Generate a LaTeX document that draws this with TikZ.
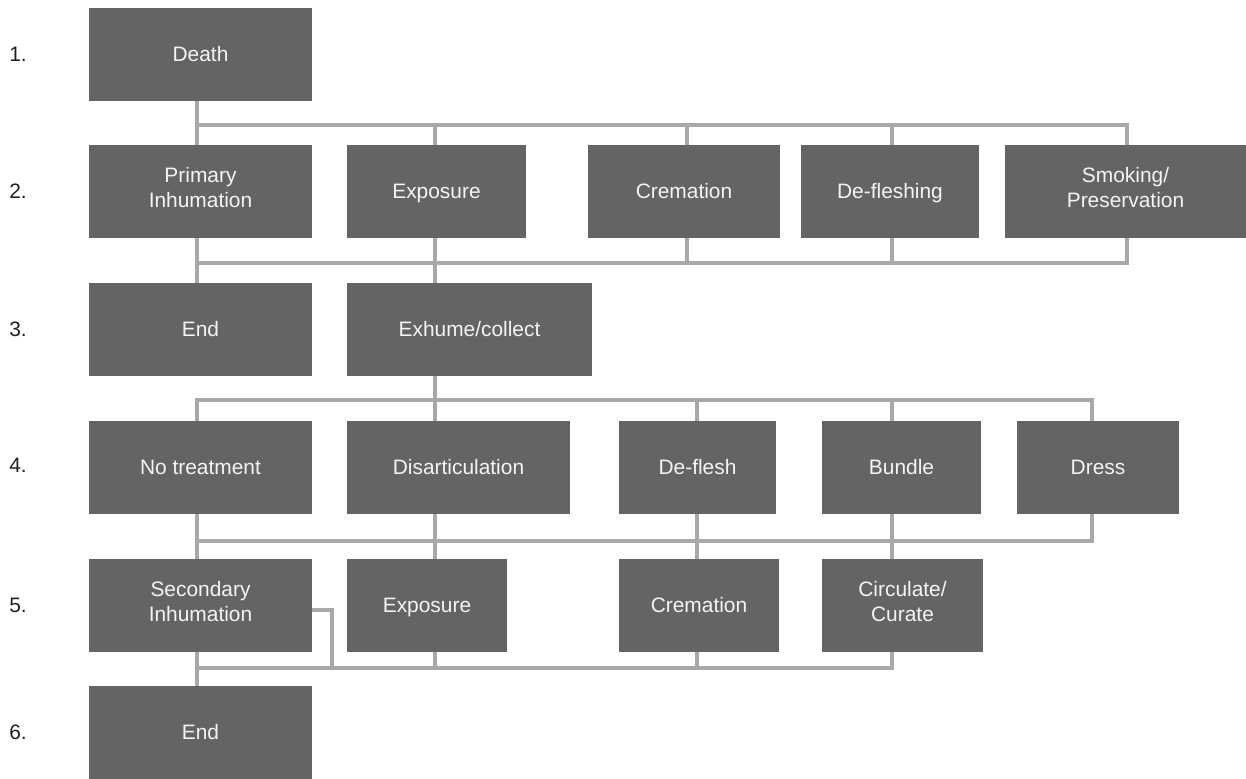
\documentclass[tikz,border=0pt]{standalone}
\usepackage{fontspec}
\setmainfont{Liberation Sans}
\usepackage{xcolor}
\usepackage{tikz}
\usetikzlibrary{positioning}

\definecolor{boxgray}{HTML}{646466}
\definecolor{linkgray}{HTML}{A8A8AA}
\definecolor{boxtext}{HTML}{F4F4F4}
\definecolor{numtext}{HTML}{231F20}

% taller strut on top so the labels sit a bit lower in the boxes
\newcommand{\stagetop}{\rule{0pt}{12.7pt}}
\newcommand{\stagetoptwo}{\rule{0pt}{15.6pt}}

\begin{document}
\begin{tikzpicture}[
    x=0.02cm, y=-0.02cm,
    stage/.style={fill=boxgray, draw=none, inner sep=0pt, minimum height=1.86cm,
                  align=center, text=boxtext, font=\fontsize{11.9}{14.2}\selectfont,
                  execute at begin node=\stagetop, execute at end node=\strut},
    twoline/.style={execute at begin node=\stagetoptwo},
    stepnum/.style={anchor=west, inner sep=0pt, text=numtext,
                    font=\fontsize{11.9}{14.2}\selectfont},
    link/.style={draw=linkgray, line width=0.08cm},
]
\useasboundingbox (0,0) rectangle (1246,778);

% ── Step numbers ──
\foreach \n/\y in {1/54.5, 2/191.5, 3/329.5, 4/465, 5/605.5, 6/732.5}
    \node[stepnum] (num\n) at (9,\y) {\n.};

% ── Row 1 ──
\node[stage, minimum width=4.46cm] (death) at (200.5,54.5) {Death};

% ── Row 2: first treatment ──
\node[stage, twoline, minimum width=4.46cm] (prim) at (200.5,191.5) {Primary\\Inhumation};
\node[stage, minimum width=3.58cm] (expo) at (436.5,191.5) {Exposure};
\node[stage, minimum width=3.84cm] (crem) at (684,191.5) {Cremation};
\node[stage, minimum width=3.56cm] (defl) at (890,191.5) {De-fleshing};
\node[stage, twoline, minimum width=4.82cm] (smok) at (1125.5,191.5) {Smoking/\\Preservation};

% ── Row 3 ──
\node[stage, minimum width=4.46cm] (endA) at (200.5,329.5) {End};
\node[stage, minimum width=4.90cm] (exhu) at (469.5,329.5) {Exhume/collect};

% ── Row 4: handling of remains ──
\node[stage, minimum width=4.46cm] (notr) at (200.5,467.5) {No treatment};
\node[stage, minimum width=4.46cm] (disa) at (458.5,467.5) {Disarticulation};
\node[stage, minimum width=3.14cm] (dfls) at (697.5,467.5) {De-flesh};
\node[stage, minimum width=3.18cm] (bund) at (901.5,467.5) {Bundle};
\node[stage, minimum width=3.24cm] (dres) at (1098,467.5) {Dress};

% ── Row 5: second treatment ──
\node[stage, twoline, minimum width=4.46cm] (seco) at (200.5,605.5) {Secondary\\Inhumation};
\node[stage, minimum width=3.20cm] (expoB) at (427,605.5) {Exposure};
\node[stage, minimum width=3.20cm] (cremB) at (699,605.5) {Cremation};
\node[stage, twoline, minimum width=3.22cm] (circ) at (902.5,605.5) {Circulate/\\Curate};

% ── Row 6 ──
\node[stage, minimum width=4.46cm] (endB) at (200.5,732.5) {End};

% ── Columns and bus lines ──
\coordinate (c1) at (197,0);
\coordinate (c2) at (435,0);
\coordinate (c3) at (687,0);
\coordinate (c3b) at (697,0);
\coordinate (c4) at (892,0);
\coordinate (c5) at (1127,0);
\coordinate (c6) at (1092,0);
\coordinate (c7) at (332,0);
\coordinate (busA) at (0,125);
\coordinate (busB) at (0,263);
\coordinate (busC) at (0,400);
\coordinate (busD) at (0,541);
\coordinate (busE) at (0,668);

% 1 -> 2
\draw[link] (death.south -| c1) -- (prim.north -| c1);
\draw[link] (c1 |- busA) -| (smok.north -| c5);
\foreach \n/\c in {expo/c2, crem/c3, defl/c4}
    \draw[link] (\c |- busA) -- (\n.north -| \c);

% 2 -> 3
\draw[link] (prim.south -| c1) -- (endA.north -| c1);
\draw[link] (expo.south -| c2) -- (exhu.north -| c2);
\draw[link] (c1 |- busB) -| (smok.south -| c5);
\foreach \n/\c in {crem/c3, defl/c4}
    \draw[link] (\n.south -| \c) -- (\c |- busB);

% 3 -> 4
\draw[link] (exhu.south -| c2) -- (disa.north -| c2);
\draw[link] (notr.north -| c1) |- (c6 |- busC) -- (dres.north -| c6);
\foreach \n/\c in {dfls/c3b, bund/c4}
    \draw[link] (\c |- busC) -- (\n.north -| \c);

% 4 -> 5
\draw[link] (notr.south -| c1) -- (seco.north -| c1);
\draw[link] (disa.south -| c2) -- (expoB.north -| c2);
\draw[link] (dfls.south -| c3b) -- (cremB.north -| c3b);
\draw[link] (bund.south -| c4) -- (circ.north -| c4);
\draw[link] (c1 |- busD) -| (dres.south -| c6);

% 5 -> 6
\draw[link] (seco.south -| c1) -- (endB.north -| c1);
\draw[link] (c1 |- busE) -| (circ.south -| c4);
\draw[link] ([yshift=-2.5pt]seco.east) -| (c7 |- busE);
\foreach \n/\c in {expoB/c2, cremB/c3b}
    \draw[link] (\n.south -| \c) -- (\c |- busE);

\end{tikzpicture}
\end{document}
